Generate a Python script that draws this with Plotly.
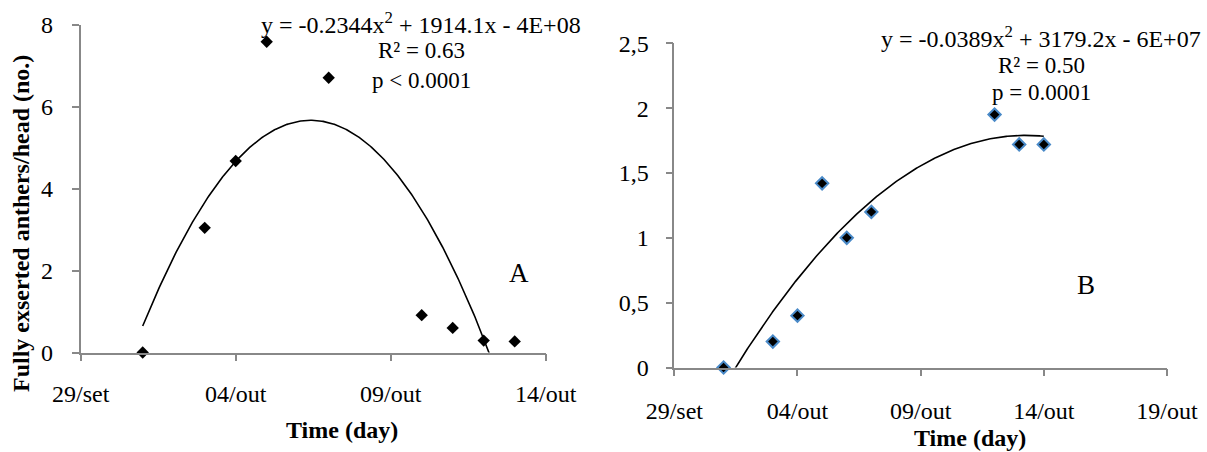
import numpy as np
import pandas as pd
import plotly.graph_objects as go

# ---------------- data ----------------
dates_a = ["2010-10-01", "2010-10-03", "2010-10-04", "2010-10-05", "2010-10-07",
           "2010-10-10", "2010-10-11", "2010-10-12", "2010-10-13"]
anthers_a = [0.0, 3.04, 4.67, 7.58, 6.70, 0.91, 0.60, 0.29, 0.27]

dates_b = ["2010-10-01", "2010-10-03", "2010-10-04", "2010-10-05", "2010-10-06",
           "2010-10-07", "2010-10-12", "2010-10-13", "2010-10-14"]
anthers_b = [0.0, 0.20, 0.40, 1.42, 1.00, 1.20, 1.95, 1.72, 1.72]

xtick_dates_a = ["2010-09-29", "2010-10-04", "2010-10-09", "2010-10-14"]
xtick_labels_a = ["29/set", "04/out", "09/out", "14/out"]
xtick_dates_b = ["2010-09-29", "2010-10-04", "2010-10-09", "2010-10-14", "2010-10-19"]
xtick_labels_b = ["29/set", "04/out", "09/out", "14/out", "19/out"]

ytick_vals_a = [0, 2, 4, 6, 8]
ytick_labels_a = ["0", "2", "4", "6", "8"]
ytick_vals_b = [0, 0.5, 1, 1.5, 2, 2.5]
ytick_labels_b = ["0", "0,5", "1", "1,5", "2", "2,5"]

eq_a = ["y = -0.2344x<sup>2</sup> + 1914.1x - 4E+08", "R² = 0.63", "p < 0.0001"]
eq_b = ["y = -0.0389x<sup>2</sup> + 3179.2x - 6E+07", "R² = 0.50", "p = 0.0001"]


def trend(dates, vals):
    d = pd.to_datetime(pd.Series(dates))
    t = ((d - d.iloc[0]).dt.total_seconds() / 86400.0).to_numpy()
    coef = np.polyfit(t, np.asarray(vals, float), 2)
    tg = np.linspace(t.min(), t.max(), 300)
    xg = d.iloc[0] + pd.to_timedelta(tg, unit="D")
    return list(xg), list(np.polyval(coef, tg))


W, H = 1207, 452


def px(x):
    return x / W


def py(y):
    return 1 - y / H


SERIF = "Liberation Serif, Times New Roman, serif"
AXC = "#888888"

fig = go.Figure()

xa, ya = trend(dates_a, anthers_a)
fig.add_trace(go.Scatter(x=xa, y=ya, mode="lines", line=dict(color="black", width=1.6),
                         xaxis="x", yaxis="y", showlegend=False, hoverinfo="skip"))
fig.add_trace(go.Scatter(x=dates_a, y=anthers_a, mode="markers",
                         marker=dict(symbol="diamond", size=9.5, color="black"),
                         xaxis="x", yaxis="y", showlegend=False, cliponaxis=False))

xb, yb = trend(dates_b, anthers_b)
fig.add_trace(go.Scatter(x=xb, y=yb, mode="lines", line=dict(color="black", width=1.6),
                         xaxis="x2", yaxis="y2", showlegend=False, hoverinfo="skip"))
fig.add_trace(go.Scatter(x=dates_b, y=anthers_b, mode="markers",
                         marker=dict(symbol="diamond", size=9.5, color="black",
                                     line=dict(color="#4a8ac8", width=2)),
                         xaxis="x2", yaxis="y2", showlegend=False, cliponaxis=False))

axis_common = dict(showline=True, linecolor=AXC, linewidth=1.6, ticks="outside",
                   ticklen=7, tickwidth=1.6, tickcolor=AXC, showgrid=False,
                   zeroline=False, automargin=False,
                   tickfont=dict(family=SERIF, size=24, color="black"))

fig.update_layout(
    width=W, height=H, margin=dict(l=0, r=0, t=0, b=0, autoexpand=False),
    paper_bgcolor="white", plot_bgcolor="white",
    xaxis=dict(axis_common, type="date", domain=[px(80.7), px(545.7)],
               range=["2010-09-29", "2010-10-14"], tickmode="array",
               tickvals=xtick_dates_a, ticktext=xtick_labels_a, anchor="y",
               ticklabelstandoff=12),
    yaxis=dict(axis_common, domain=[py(352.5), py(24.5)], range=[0, 8],
               tickmode="array", tickvals=ytick_vals_a, ticktext=ytick_labels_a,
               anchor="x", ticklabelstandoff=14),
    xaxis2=dict(axis_common, type="date", domain=[px(674.3), px(1167)],
                range=["2010-09-29", "2010-10-19"], tickmode="array",
                tickvals=xtick_dates_b, ticktext=xtick_labels_b, anchor="y2",
                ticklabelstandoff=14),
    yaxis2=dict(axis_common, domain=[py(367.5), py(43.3)], range=[0, 2.5],
                tickmode="array", tickvals=ytick_vals_b, ticktext=ytick_labels_b,
                anchor="x2", ticklabelstandoff=12),
)

ann = []


def add_text(text, x, y, size=23, bold=False, angle=0):
    ann.append(dict(text=("<b>%s</b>" % text) if bold else text,
                    x=px(x), y=py(y), xref="paper", yref="paper",
                    xanchor="center", yanchor="middle", showarrow=False,
                    textangle=angle, font=dict(family=SERIF, size=size, color="black")))


for line, yy, sz in zip(eq_a, [23, 50, 80], [24, 23, 23]):
    add_text(line, 421, yy, size=sz)
for line, yy, sz in zip(eq_b, [37, 65, 93], [24, 23, 23]):
    add_text(line, 1041, yy, size=sz)
add_text("A", 519, 273, size=27)
add_text("B", 1086, 285, size=27)
add_text("Time (day)", 342, 430, size=24, bold=True)
add_text("Time (day)", 970, 438, size=24, bold=True)
add_text("Fully exserted anthers/head (no.)", 21, 224, size=24, bold=True, angle=-90)

fig.update_layout(annotations=ann)
fig.write_html("out.html", config={"displayModeBar": False},
               post_script="document.body.style.margin='0';document.body.style.overflow='hidden';")
